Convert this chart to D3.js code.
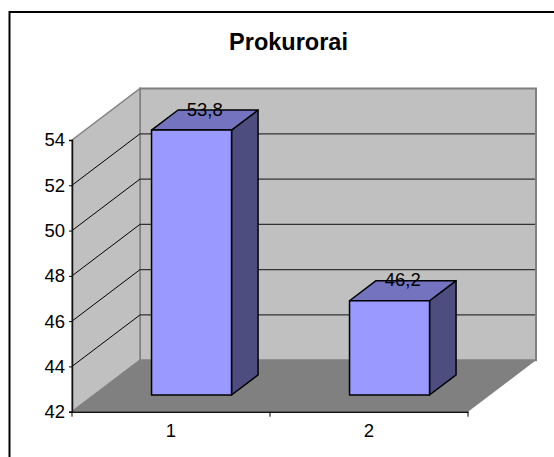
<!DOCTYPE html>
<html lang="en">
<head>
    <meta charset="UTF-8">
    <title>Prokurorai</title>
    <script src="https://cdn.jsdelivr.net/npm/d3@7"></script>
    <style>
        html, body { margin: 0; padding: 0; background: #fff; overflow: hidden; }
        text { font-family: "Liberation Sans", Arial, sans-serif; fill: #000; }
    </style>
</head>
<body>
<div id="fig"></div>
<script>
    const title = "Prokurorai"
    const categories = ["1", "2"]
    const values = [53.8, 46.2]
    const yTicks = [42, 44, 46, 48, 50, 52, 54]
    const gridTicks = [44, 46, 48, 50, 52]

    const width = 554, height = 457
    const plot = {left: 72, right: 468, bottom: 411.7, top: 140}
    // offset from the front of the floor to the back wall
    const depth = {x: 68, y: -51.5}
    // where the bars stand on the floor, as a share of the depth
    const barFront = 0.324, barDepth = 0.39

    const svg = d3.select("#fig").append("svg")
        .attr("width", width)
        .attr("height", height)
        .style("display", "block")

    const y = d3.scaleLinear().domain([42, 54]).range([plot.bottom, plot.top])
    const x = d3.scaleBand().domain(categories).range([plot.left, plot.right])
    const bandPad = 0.3

    // bars are foreshortened a little compared with the axis
    const barY = d3.scaleLinear().domain([42, 54])
        .range([plot.bottom + depth.y * barFront, plot.bottom + depth.y * barFront - 269.4])

    const pts = a => a.map(p => p.join(",")).join(" ")

    // frame
    svg.append("rect").attr("x", 9.5).attr("y", 12)
        .attr("width", width).attr("height", height)
        .attr("fill", "#fff").attr("stroke", "#000").attr("stroke-width", 2)

    // walls and floor
    const L = plot.left, R = plot.right, B = plot.bottom, T = plot.top
    const dx = depth.x, dy = depth.y
    svg.append("polygon")
        .attr("points", pts([[L + dx, T + dy], [R + dx, T + dy], [R + dx, B + dy], [L + dx, B + dy]]))
        .attr("fill", "#c0c0c0").attr("stroke", "#808080").attr("stroke-width", 2)
    svg.append("polygon")
        .attr("points", pts([[L, T], [L + dx, T + dy], [L + dx, B + dy], [L, B]]))
        .attr("fill", "#c0c0c0").attr("stroke", "#808080").attr("stroke-width", 1.5)
    svg.append("polygon")
        .attr("points", pts([[L, B], [L + dx, B + dy], [R + dx, B + dy], [R, B]]))
        .attr("fill", "#808080")

    // gridlines
    const grid = svg.append("g").attr("fill", "none")
    gridTicks.forEach(t => {
        grid.append("line")
            .attr("x1", L).attr("y1", y(t)).attr("x2", L + dx).attr("y2", y(t) + dy)
            .attr("stroke", "#000").attr("stroke-width", 1)
        grid.append("line")
            .attr("x1", L + dx).attr("y1", y(t) + dy).attr("x2", R + dx - 1).attr("y2", y(t) + dy)
            .attr("stroke", "#333").attr("stroke-width", 1.3)
    })

    // axes
    const yAxis = svg.append("g")
        .attr("transform", `translate(${L},0)`)
        .call(d3.axisLeft(y).tickValues(yTicks).tickSize(3).tickPadding(4))
    const xAxis = svg.append("g")
        .attr("transform", `translate(0,${B})`)
        .call(d3.axisBottom(x).tickSize(0).tickPadding(12))
    xAxis.selectAll(".bound").data(d3.range(categories.length + 1)).enter()
        .append("line")
        .attr("x1", i => L + i * x.step()).attr("x2", i => L + i * x.step())
        .attr("y1", 0).attr("y2", 5)
        .attr("stroke", "#000")
    svg.selectAll(".domain").attr("stroke", "#111").attr("stroke-width", 1.5)
    svg.selectAll(".tick text").style("font-size", "18.5px").style("font-family", '"Liberation Sans", Arial, sans-serif')

    // bars
    const bars = svg.selectAll(".bar").data(values).enter().append("g").attr("class", "bar")
        .attr("stroke", "#000").attr("stroke-width", 1.5).attr("stroke-linejoin", "round")
    const barW = x.bandwidth() * (1 - 2 * bandPad) + 0.8
    const fx = (d, i) => x(categories[i]) + x.bandwidth() / 2 - barW / 2 + dx * barFront - 1.5
    const ox = dx * barDepth, oy = dy * barDepth
    const y0 = barY(42)
    bars.append("polygon").attr("fill", "#4d4d80")
        .attr("points", (d, i) => {
            const r = fx(d, i) + barW
            return pts([[r, barY(d)], [r + ox, barY(d) + oy], [r + ox, y0 + oy], [r, y0]])
        })
    bars.append("polygon").attr("fill", "#7373bf")
        .attr("points", (d, i) => {
            const l = fx(d, i)
            return pts([[l, barY(d)], [l + ox, barY(d) + oy], [l + barW + ox, barY(d) + oy], [l + barW, barY(d)]])
        })
    bars.append("rect").attr("fill", "#9999ff")
        .attr("x", fx).attr("y", d => barY(d))
        .attr("width", barW).attr("height", d => y0 - barY(d))

    // value labels
    svg.selectAll(".val").data(values).enter().append("text").attr("class", "val")
        .attr("x", (d, i) => fx(d, i) + barW / 2 + ox / 2)
        .attr("y", d => barY(d) + oy + 5.7)
        .attr("text-anchor", "middle")
        .style("font-size", "18.5px")
        .text(d => String(d).replace(".", ","))

    svg.append("text").attr("class", "title")
        .attr("x", 288.5).attr("y", 50)
        .attr("text-anchor", "middle")
        .style("font-size", "23.5px").style("font-weight", "bold")
        .text(title)
</script>
</body>
</html>
